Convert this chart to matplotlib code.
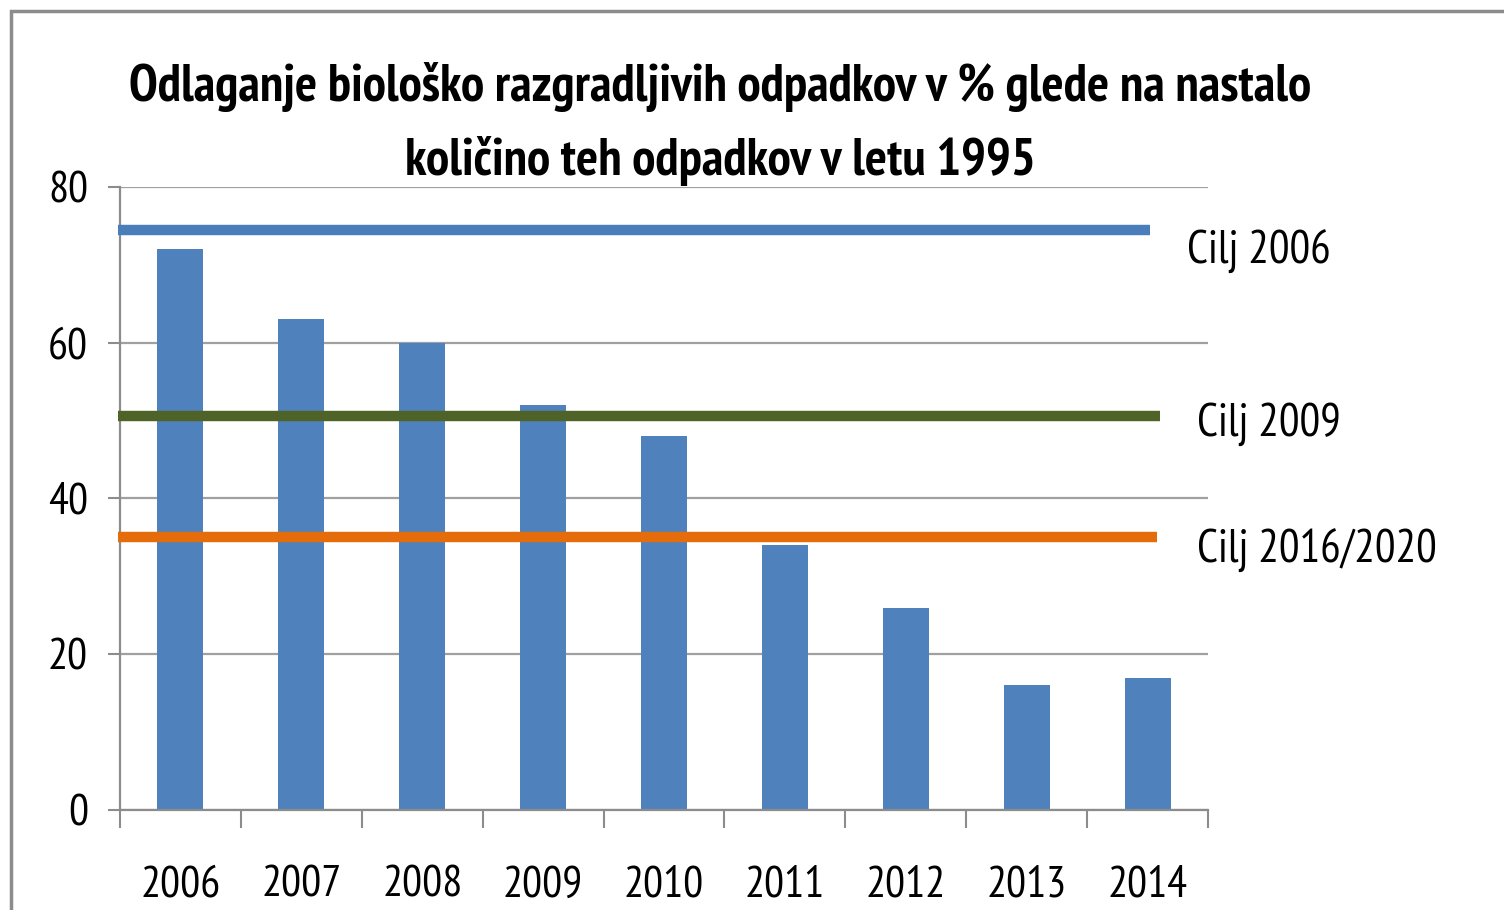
import matplotlib
matplotlib.use("Agg")
import matplotlib.pyplot as plt
from matplotlib.patches import Rectangle

plt.rcParams['font.family'] = ['PT Sans Narrow', 'DejaVu Sans']

years = ['2006', '2007', '2008', '2009', '2010', '2011', '2012', '2013', '2014']
values = [72, 63, 60, 52, 48, 34, 26, 16, 17]
target_labels = ['Cilj 2006', 'Cilj 2009', 'Cilj 2016/2020']
target_values = [74.5, 50.6, 35.0]
target_colors = ['#4a7ebb', '#4f6228', '#e46c0a']
target_ends = [8.02, 8.1, 8.08]
label_x = [8.33, 8.41, 8.41]
label_y = [71.7, 49.5, 33.3]
title = 'Odlaganje biološko razgradljivih odpadkov v % glede na nastalo\nkoličino teh odpadkov v letu 1995'

fig = plt.figure(figsize=(15.04, 9.10), dpi=100)
fig.patch.set_facecolor('white')
fig.patches.append(Rectangle((11/1504, -0.1), 1.2, (910-11.5)/910 + 0.1,
                             transform=fig.transFigure, fill=False,
                             edgecolor='#8c8c8c', linewidth=2.5))

ax = fig.add_axes([120/1504, 100/910, 1088/1504, 623/910])
x = list(range(len(years)))
ax.bar(x, values, width=0.38, color='#4f81bd', zorder=2)

for v, c, e in zip(target_values, target_colors, target_ends):
    ax.plot([-0.52, e], [v, v], color=c, linewidth=7.5, solid_capstyle='butt',
            zorder=3, clip_on=False)
for t, lx, ly in zip(target_labels, label_x, label_y):
    ax.text(lx, ly, t, fontsize=33, va='center', ha='left', clip_on=False)

ax.set_xlim(-0.5, 8.5)
ax.set_ylim(0, 80)
ax.set_yticks([0, 20, 40, 60, 80])
ax.set_xticks(x)
ax.set_xticklabels(years)
ax.set_xticks([i - 0.5 for i in range(len(years) + 1)], minor=True)
ax.tick_params(axis='x', which='major', length=0, pad=40, labelsize=32)
ax.tick_params(axis='x', which='minor', length=13, width=1.5, color='#8c8c8c', direction='out')
ax.tick_params(axis='y', length=9, width=1.5, color='#8c8c8c', pad=14, labelsize=32)
ax.grid(axis='y', color='#a0a0a0', linewidth=1.6, zorder=1)
ax.set_axisbelow(True)
for s in ['top', 'right']:
    ax.spines[s].set_visible(False)
for s in ['left', 'bottom']:
    ax.spines[s].set_color('#8c8c8c')
    ax.spines[s].set_linewidth(1.6)

fig.text(720/1504, 1 - 124/910, title, ha='center', va='center', fontsize=37.5,
         fontweight='bold', linespacing=1.62)

fig.savefig('out.png', dpi=100)
